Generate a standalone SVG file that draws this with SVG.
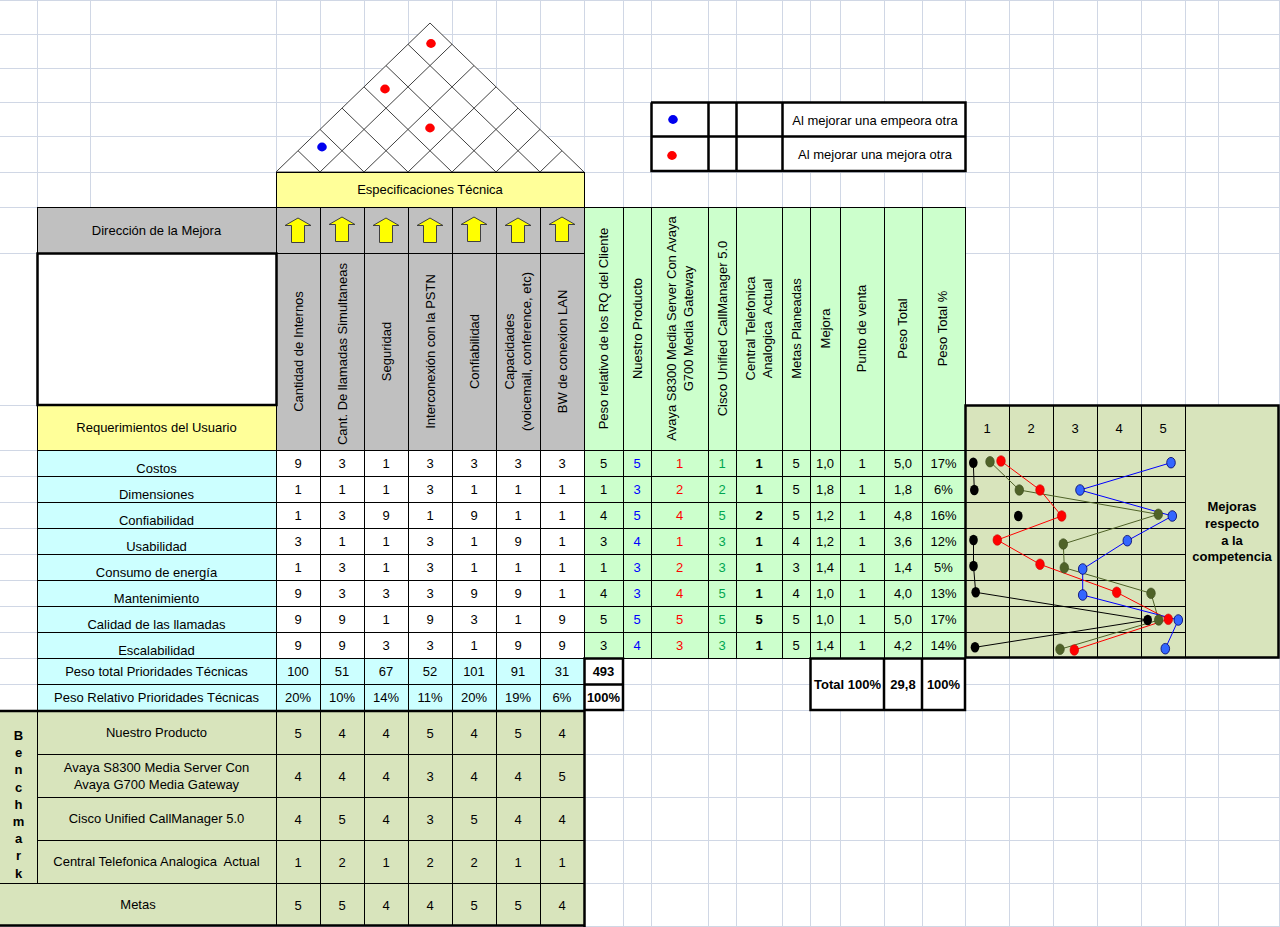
<svg xmlns="http://www.w3.org/2000/svg" width="1280" height="927" viewBox="0 0 1280 927">
<defs>
<style>
text{font-family:"Liberation Sans",Arial,"DejaVu Sans",sans-serif;font-size:13px;fill:#000;text-anchor:middle}
.b{font-weight:bold}
.grid{stroke:#d0d7e5;stroke-width:1;fill:none}
.ln{stroke:#000;stroke-width:1;fill:none}
.tk{stroke:#000;stroke-width:2.5;fill:none}
.roof{stroke:#404040;stroke-width:1;fill:none}
.blu{fill:#0000ff}
.red{fill:#ff0000}
.grn{fill:#00a650}
.pre{white-space:pre}
</style>
<polygon id="arw" points="0,-12 13,-4.5 6.5,-4.5 6.5,12.5 -6.5,12.5 -6.5,-4.5 -13,-4.5" fill="#ffff00" stroke="#404040" stroke-width="1"/>
</defs>
<rect x="0" y="0" width="1280" height="927" fill="#ffffff"/>
<g id="sheet-grid">
<path class="grid" d="M37.5 0V927M90.5 0V927M276.5 0V927M320.5 0V927M364.5 0V927M408.5 0V927M452.5 0V927M496.5 0V927M540.5 0V927M584.5 0V927M623.5 0V927M651.5 0V927M708.5 0V927M736.5 0V927M782.5 0V927M810.5 0V927M840.5 0V927M884.5 0V927M922.5 0V927M965.5 0V927M1009.5 0V927M1053.5 0V927M1097.5 0V927M1141.5 0V927M1185.5 0V927M1218.5 0V927M1279.5 0V927"/>
<path class="grid" d="M0 0.5H1280M0 34.5H1280M0 68.5H1280M0 102.5H1280M0 136.5H1280M0 172.5H1280M0 207.5H1280M0 253.5H1280M0 405.5H1280M0 450.5H1280M0 476.5H1280M0 502.5H1280M0 528.5H1280M0 554.5H1280M0 580.5H1280M0 606.5H1280M0 632.5H1280M0 658.5H1280M0 684.5H1280M0 710.5H1280M0 754.5H1280M0 797.5H1280M0 840.5H1280M0 883.5H1280M0 926.5H1280"/>
</g>

<g id="roof">
<polygon points="276,172 430,23 584,172" fill="#ffffff" stroke="#404040" stroke-width="1"/>
<path class="roof" d="M320 172L452 44.3M364 172L474 65.6M408 172L496 86.9M452 172L518 108.1M496 172L540 129.4M540 172L562 150.7M320 172L298 150.7M364 172L320 129.4M408 172L342 108.1M452 172L364 86.9M496 172L386 65.6M540 172L408 44.3"/>
<ellipse cx="431" cy="43.5" rx="4.8" ry="4.4" fill="#ff0000"/>
<ellipse cx="385" cy="89" rx="4.8" ry="4.4" fill="#ff0000"/>
<ellipse cx="430" cy="128" rx="4.8" ry="4.4" fill="#ff0000"/>
<ellipse cx="322" cy="147" rx="4.8" ry="4.4" fill="#0000ee"/>
</g>

<g id="legend">
<rect x="651" y="102" width="314" height="69" fill="#ffffff"/>
<ellipse cx="673" cy="119.5" rx="4.8" ry="4.4" fill="#0000ee"/>
<ellipse cx="672" cy="155.5" rx="4.8" ry="4.4" fill="#ff0000"/>
<text x="875" y="124.5">Al mejorar una empeora otra</text>
<text x="875" y="159">Al mejorar una mejora otra</text>
<path class="tk" d="M651 102.5H965.5V171H651.5V102.5M651 136.5H965M708.5 102V171M736.5 102V171M782.5 102V171"/>
</g>

<g id="spec-header">
<rect x="276.5" y="172.5" width="308" height="35" fill="#ffff99" stroke="#000" stroke-width="1"/>
<text x="430" y="194">Especificaciones Técnica</text>
</g>

<g id="direction-row">
<rect x="37" y="207" width="547" height="46" fill="#c0c0c0"/>
<text x="156.5" y="234.5">Dirección de la Mejora</text>
<use href="#arw" x="298" y="230"/>
<use href="#arw" x="342" y="229"/>
<use href="#arw" x="386" y="230"/>
<use href="#arw" x="430" y="230"/>
<use href="#arw" x="474" y="229"/>
<use href="#arw" x="518" y="230"/>
<use href="#arw" x="562" y="229"/>
</g>

<g id="tech-specs">
<rect x="276" y="253" width="308" height="197" fill="#c0c0c0"/>
<text transform="translate(298,351.5) rotate(-90)" y="4.7">Cantidad de Internos</text>
<text transform="translate(342,354) rotate(-90)" y="4.7">Cant. De llamadas Simultaneas</text>
<text transform="translate(386,351.5) rotate(-90)" y="4.7">Seguridad</text>
<text transform="translate(430,351.5) rotate(-90)" y="4.7">Interconexión con la PSTN</text>
<text transform="translate(474,351.5) rotate(-90)" y="4.7">Confiabilidad</text>
<text transform="translate(518,351.5) rotate(-90)"><tspan x="0" y="-3.8">Capacidades</tspan><tspan x="0" y="13.2">(voicemail, conference, etc)</tspan></text>
<text transform="translate(562,351.5) rotate(-90)" y="4.7">BW de conexion LAN</text>
</g>

<g id="user-req-header">
<rect x="37" y="253" width="239" height="152" fill="#ffffff"/>
<rect x="37" y="405" width="239" height="45" fill="#ffff99"/>
<text x="156.5" y="431.5">Requerimientos del Usuario</text>
</g>

<g id="customer-eval">
<rect x="584" y="207" width="381" height="451" fill="#ccffcc"/>
<text transform="translate(603.5,328.5) rotate(-90)" y="4.7">Peso relativo de los RQ del Cliente</text>
<text transform="translate(637,328.5) rotate(-90)" y="4.7">Nuestro Producto</text>
<text transform="translate(679.5,328.5) rotate(-90)"><tspan x="0" y="-3.8">Avaya S8300 Media Server Con Avaya</tspan><tspan x="0" y="13.2">G700 Media Gateway</tspan></text>
<text transform="translate(722,328.5) rotate(-90)" y="4.7">Cisco Unified CallManager 5.0</text>
<text class="pre" transform="translate(759,328.5) rotate(-90)"><tspan x="0" y="-3.8">Central Telefonica</tspan><tspan x="0" y="13.2">Analogica  Actual</tspan></text>
<text transform="translate(796,328.5) rotate(-90)" y="4.7">Metas Planeadas</text>
<text transform="translate(825,328.5) rotate(-90)" y="4.7">Mejora</text>
<text transform="translate(861,328.5) rotate(-90)" y="4.7">Punto de venta</text>
<text transform="translate(902,328.5) rotate(-90)" y="4.7">Peso Total</text>
<text transform="translate(942.5,328.5) rotate(-90)" y="4.7">Peso Total %</text>
</g>

<g id="requirements">
<rect x="37" y="450" width="239" height="208" fill="#ccffff"/>
<rect x="276" y="450" width="308" height="208" fill="#ffffff"/>
<text x="156.5" y="473">Costos</text>
<text x="156.5" y="499">Dimensiones</text>
<text x="156.5" y="525">Confiabilidad</text>
<text x="156.5" y="551">Usabilidad</text>
<text x="156.5" y="577">Consumo de energía</text>
<text x="156.5" y="603">Mantenimiento</text>
<text x="156.5" y="629">Calidad de las llamadas</text>
<text x="156.5" y="655">Escalabilidad</text>
</g>

<g id="relationship-matrix">
<text y="468"><tspan x="298">9</tspan><tspan x="342">3</tspan><tspan x="386">1</tspan><tspan x="430">3</tspan><tspan x="474">3</tspan><tspan x="518">3</tspan><tspan x="562">3</tspan></text>
<text y="494"><tspan x="298">1</tspan><tspan x="342">1</tspan><tspan x="386">1</tspan><tspan x="430">3</tspan><tspan x="474">1</tspan><tspan x="518">1</tspan><tspan x="562">1</tspan></text>
<text y="520"><tspan x="298">1</tspan><tspan x="342">3</tspan><tspan x="386">9</tspan><tspan x="430">1</tspan><tspan x="474">9</tspan><tspan x="518">1</tspan><tspan x="562">1</tspan></text>
<text y="546"><tspan x="298">3</tspan><tspan x="342">1</tspan><tspan x="386">1</tspan><tspan x="430">3</tspan><tspan x="474">1</tspan><tspan x="518">9</tspan><tspan x="562">1</tspan></text>
<text y="572"><tspan x="298">1</tspan><tspan x="342">3</tspan><tspan x="386">1</tspan><tspan x="430">3</tspan><tspan x="474">1</tspan><tspan x="518">1</tspan><tspan x="562">1</tspan></text>
<text y="598"><tspan x="298">9</tspan><tspan x="342">3</tspan><tspan x="386">3</tspan><tspan x="430">3</tspan><tspan x="474">9</tspan><tspan x="518">9</tspan><tspan x="562">1</tspan></text>
<text y="624"><tspan x="298">9</tspan><tspan x="342">9</tspan><tspan x="386">1</tspan><tspan x="430">9</tspan><tspan x="474">3</tspan><tspan x="518">1</tspan><tspan x="562">9</tspan></text>
<text y="650"><tspan x="298">9</tspan><tspan x="342">9</tspan><tspan x="386">3</tspan><tspan x="430">3</tspan><tspan x="474">1</tspan><tspan x="518">9</tspan><tspan x="562">9</tspan></text>
</g>

<g id="evaluation-values">
<text y="468"><tspan x="603.5">5</tspan><tspan x="637" class="blu">5</tspan><tspan x="679.5" class="red">1</tspan><tspan x="722" class="grn">1</tspan><tspan x="759" class="b">1</tspan><tspan x="796">5</tspan><tspan x="825">1,0</tspan><tspan x="862">1</tspan><tspan x="903">5,0</tspan><tspan x="943.5">17%</tspan></text>
<text y="494"><tspan x="603.5">1</tspan><tspan x="637" class="blu">3</tspan><tspan x="679.5" class="red">2</tspan><tspan x="722" class="grn">2</tspan><tspan x="759" class="b">1</tspan><tspan x="796">5</tspan><tspan x="825">1,8</tspan><tspan x="862">1</tspan><tspan x="903">1,8</tspan><tspan x="943.5">6%</tspan></text>
<text y="520"><tspan x="603.5">4</tspan><tspan x="637" class="blu">5</tspan><tspan x="679.5" class="red">4</tspan><tspan x="722" class="grn">5</tspan><tspan x="759" class="b">2</tspan><tspan x="796">5</tspan><tspan x="825">1,2</tspan><tspan x="862">1</tspan><tspan x="903">4,8</tspan><tspan x="943.5">16%</tspan></text>
<text y="546"><tspan x="603.5">3</tspan><tspan x="637" class="blu">4</tspan><tspan x="679.5" class="red">1</tspan><tspan x="722" class="grn">3</tspan><tspan x="759" class="b">1</tspan><tspan x="796">4</tspan><tspan x="825">1,2</tspan><tspan x="862">1</tspan><tspan x="903">3,6</tspan><tspan x="943.5">12%</tspan></text>
<text y="572"><tspan x="603.5">1</tspan><tspan x="637" class="blu">3</tspan><tspan x="679.5" class="red">2</tspan><tspan x="722" class="grn">3</tspan><tspan x="759" class="b">1</tspan><tspan x="796">3</tspan><tspan x="825">1,4</tspan><tspan x="862">1</tspan><tspan x="903">1,4</tspan><tspan x="943.5">5%</tspan></text>
<text y="598"><tspan x="603.5">4</tspan><tspan x="637" class="blu">3</tspan><tspan x="679.5" class="red">4</tspan><tspan x="722" class="grn">5</tspan><tspan x="759" class="b">1</tspan><tspan x="796">4</tspan><tspan x="825">1,0</tspan><tspan x="862">1</tspan><tspan x="903">4,0</tspan><tspan x="943.5">13%</tspan></text>
<text y="624"><tspan x="603.5">5</tspan><tspan x="637" class="blu">5</tspan><tspan x="679.5" class="red">5</tspan><tspan x="722" class="grn">5</tspan><tspan x="759" class="b">5</tspan><tspan x="796">5</tspan><tspan x="825">1,0</tspan><tspan x="862">1</tspan><tspan x="903">5,0</tspan><tspan x="943.5">17%</tspan></text>
<text y="650"><tspan x="603.5">3</tspan><tspan x="637" class="blu">4</tspan><tspan x="679.5" class="red">3</tspan><tspan x="722" class="grn">3</tspan><tspan x="759" class="b">1</tspan><tspan x="796">5</tspan><tspan x="825">1,4</tspan><tspan x="862">1</tspan><tspan x="903">4,2</tspan><tspan x="943.5">14%</tspan></text>
</g>

<g id="technical-priorities">
<rect x="37" y="658" width="547" height="52" fill="#ccffff"/>
<rect x="584" y="658" width="39" height="52" fill="#ffffff"/>
<text x="156.5" y="676">Peso total Prioridades Técnicas</text>
<text x="156.5" y="702">Peso Relativo Prioridades Técnicas</text>
<text y="676"><tspan x="298">100</tspan><tspan x="342">51</tspan><tspan x="386">67</tspan><tspan x="430">52</tspan><tspan x="474">101</tspan><tspan x="518">91</tspan><tspan x="562">31</tspan></text>
<text y="702"><tspan x="298">20%</tspan><tspan x="342">10%</tspan><tspan x="386">14%</tspan><tspan x="430">11%</tspan><tspan x="474">20%</tspan><tspan x="518">19%</tspan><tspan x="562">6%</tspan></text>
<text class="b" x="603.5" y="676">493</text>
<text class="b" x="603.5" y="702">100%</text>
</g>

<g id="totals">
<rect x="810" y="658" width="155" height="52" fill="#ffffff"/>
<text class="b" x="847.5" y="689">Total 100%</text>
<text class="b" x="903" y="689">29,8</text>
<text class="b" x="943.5" y="689">100%</text>
</g>

<g id="benchmark">
<rect x="0" y="710" width="584" height="216" fill="#d8e4bc"/>
<text class="b" x="18.5"><tspan x="18.5" y="740">B</tspan><tspan x="18.5" y="757.2">e</tspan><tspan x="18.5" y="774.4">n</tspan><tspan x="18.5" y="791.6">c</tspan><tspan x="18.5" y="808.8">h</tspan><tspan x="18.5" y="826">m</tspan><tspan x="18.5" y="843.2">a</tspan><tspan x="18.5" y="860.4">r</tspan><tspan x="18.5" y="877.6">k</tspan></text>
<text x="156.5" y="737.3">Nuestro Producto</text>
<text x="156.5" y="772.3">Avaya S8300 Media Server Con</text>
<text x="156.5" y="789">Avaya G700 Media Gateway</text>
<text x="156.5" y="823">Cisco Unified CallManager 5.0</text>
<text class="pre" x="156.5" y="866.3">Central Telefonica Analogica  Actual</text>
<text x="138" y="908.7">Metas</text>
<text y="738"><tspan x="298">5</tspan><tspan x="342">4</tspan><tspan x="386">4</tspan><tspan x="430">5</tspan><tspan x="474">4</tspan><tspan x="518">5</tspan><tspan x="562">4</tspan></text>
<text y="781.3"><tspan x="298">4</tspan><tspan x="342">4</tspan><tspan x="386">4</tspan><tspan x="430">3</tspan><tspan x="474">4</tspan><tspan x="518">4</tspan><tspan x="562">5</tspan></text>
<text y="824"><tspan x="298">4</tspan><tspan x="342">5</tspan><tspan x="386">4</tspan><tspan x="430">3</tspan><tspan x="474">5</tspan><tspan x="518">4</tspan><tspan x="562">4</tspan></text>
<text y="867.3"><tspan x="298">1</tspan><tspan x="342">2</tspan><tspan x="386">1</tspan><tspan x="430">2</tspan><tspan x="474">2</tspan><tspan x="518">1</tspan><tspan x="562">1</tspan></text>
<text y="909.7"><tspan x="298">5</tspan><tspan x="342">5</tspan><tspan x="386">4</tspan><tspan x="430">4</tspan><tspan x="474">5</tspan><tspan x="518">5</tspan><tspan x="562">4</tspan></text>
</g>

<g id="competition-chart">
<rect x="965" y="405" width="314" height="253" fill="#d8e4bc"/>
<text y="432.5"><tspan x="987">1</tspan><tspan x="1031">2</tspan><tspan x="1075">3</tspan><tspan x="1119">4</tspan><tspan x="1163">5</tspan></text>
<path class="ln" d="M1009.5 405V658M1053.5 405V658M1097.5 405V658M1141.5 405V658M1185.5 405V658M965 450.5H1185M965 476.5H1185M965 502.5H1185M965 528.5H1185M965 554.5H1185M965 580.5H1185M965 606.5H1185M965 632.5H1185"/>
<text class="b"><tspan x="1232" y="511">Mejoras</tspan><tspan x="1232" y="528">respecto</tspan><tspan x="1232" y="544.5">a la</tspan><tspan x="1232" y="561">competencia</tspan></text>
</g>

<g id="table-lines">
<path class="ln" d="M37.5 207V710M276.5 207V926M320.5 207V926M364.5 207V926M408.5 207V926M452.5 207V926M496.5 207V926M540.5 207V926M584.5 207V710M623.5 207V658M651.5 207V658M708.5 207V658M736.5 207V658M782.5 207V658M810.5 207V658M840.5 207V658M884.5 207V658M922.5 207V658M965.5 207V658"/>
<path class="ln" d="M37 207.5H965M37 253.5H584M37 450.5H965M37 476.5H965M37 502.5H965M37 528.5H965M37 554.5H965M37 580.5H965M37 606.5H965M37 632.5H965M37 658.5H965M37 684.5H584M37 754.5H584M37 797.5H584M37 840.5H584M0 883.5H584M37.5 710V883"/>
<path class="tk" d="M37.5 253.5H276.5V405H37.5Z"/>
<path class="tk" d="M0 711H585.5M584.5 710V927M0 925.5H585.5"/>
<path class="tk" d="M584.5 658.5H623V710H584.5ZM584 684.5H623"/>
<path class="tk" d="M810.5 658.5H965V710H810.5ZM884 658V710M922 658V710"/>
<path class="tk" d="M965.5 405.5H1278.5V657.5H965.5Z"/>
</g>

<g id="connectors">
<polyline fill="none" stroke="#000000" stroke-width="1" points="973.3,462.7 974.3,490"/>
<polyline fill="none" stroke="#000000" stroke-width="1" points="973.5,540 973.5,566 975.7,592.3 1147.7,620 975,647.3"/>
<polyline fill="none" stroke="#4f6228" stroke-width="1" points="990,461.7 1019.3,490 1158.3,514.3 1063.3,544 1064.3,567.7 1151,593.3 1158.7,620 1060,649.3"/>
<polyline fill="none" stroke="#ff0000" stroke-width="1" points="1001,461 1040,490 1061.7,516 997.3,540 1040,564.3 1116.7,592.3 1168.3,619.3 1074.3,650"/>
<polyline fill="none" stroke="#0000ff" stroke-width="1" points="1171,462.7 1080,490 1172.3,516 1127.3,540.7 1082.7,569 1082.7,595 1178.3,620 1165.3,648.7"/>
</g>

<g id="chart-markers">
<g fill="#000000">
<ellipse cx="973.3" cy="462.7" rx="4.3" ry="5.3"/>
<ellipse cx="974.3" cy="490" rx="4.3" ry="5.3"/>
<ellipse cx="1018.3" cy="516" rx="4.3" ry="5.3"/>
<ellipse cx="973.5" cy="540" rx="4.3" ry="5.3"/>
<ellipse cx="973.5" cy="566" rx="4.3" ry="5.3"/>
<ellipse cx="975.7" cy="592.3" rx="4.3" ry="5.3"/>
<ellipse cx="1147.7" cy="620" rx="4.3" ry="5.3"/>
<ellipse cx="975" cy="647.3" rx="4.3" ry="5.3"/>
</g>
<g fill="#4f6228" stroke="#3a4a1c" stroke-width="0.6">
<ellipse cx="990" cy="461.7" rx="4.3" ry="5.3"/>
<ellipse cx="1019.3" cy="490" rx="4.3" ry="5.3"/>
<ellipse cx="1158.3" cy="514.3" rx="4.3" ry="5.3"/>
<ellipse cx="1063.3" cy="544" rx="4.3" ry="5.3"/>
<ellipse cx="1064.3" cy="567.7" rx="4.3" ry="5.3"/>
<ellipse cx="1151" cy="593.3" rx="4.3" ry="5.3"/>
<ellipse cx="1158.7" cy="620" rx="4.3" ry="5.3"/>
<ellipse cx="1060" cy="649.3" rx="4.3" ry="5.3"/>
</g>
<g fill="#ff0000" stroke="#cc0000" stroke-width="0.6">
<ellipse cx="1001" cy="461" rx="4.3" ry="5.3"/>
<ellipse cx="1040" cy="490" rx="4.3" ry="5.3"/>
<ellipse cx="1061.7" cy="516" rx="4.3" ry="5.3"/>
<ellipse cx="997.3" cy="540" rx="4.3" ry="5.3"/>
<ellipse cx="1040" cy="564.3" rx="4.3" ry="5.3"/>
<ellipse cx="1116.7" cy="592.3" rx="4.3" ry="5.3"/>
<ellipse cx="1168.3" cy="619.3" rx="4.3" ry="5.3"/>
<ellipse cx="1074.3" cy="650" rx="4.3" ry="5.3"/>
</g>
<g fill="#3366ff" stroke="#000066" stroke-width="0.8">
<ellipse cx="1171" cy="462.7" rx="4.3" ry="5.3"/>
<ellipse cx="1080" cy="490" rx="4.3" ry="5.3"/>
<ellipse cx="1172.3" cy="516" rx="4.3" ry="5.3"/>
<ellipse cx="1127.3" cy="540.7" rx="4.3" ry="5.3"/>
<ellipse cx="1082.7" cy="569" rx="4.3" ry="5.3"/>
<ellipse cx="1082.7" cy="595" rx="4.3" ry="5.3"/>
<ellipse cx="1178.3" cy="620" rx="4.3" ry="5.3"/>
<ellipse cx="1165.3" cy="648.7" rx="4.3" ry="5.3"/>
</g>
</g>
</svg>
